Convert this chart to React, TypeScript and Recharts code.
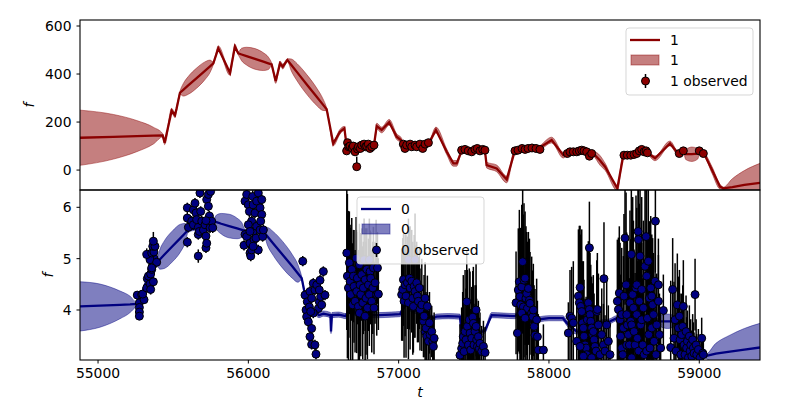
import { ComposedChart, XAxis, YAxis, Line, Area, Scatter, ErrorBar } from 'recharts';

const X_DOMAIN: [number, number] = [54880, 59404];
const X_TICKS = [55000, 56000, 57000, 58000, 59000];
const TOP_DOMAIN: [number, number] = [-83, 625];
const TOP_TICKS = [0, 200, 400, 600];
const BOTTOM_DOMAIN: [number, number] = [3.026, 6.337];
const BOTTOM_TICKS = [4, 5, 6];

const RED = '#8b0000';
const NAVY = '#000080';
const FONT = 'DejaVu Sans, sans-serif';

// series "1" (top panel): prediction mean and half-width of the band
const topT = [
  54880, 55102, 55257, 55368, 55430, 55443, 55490, 55512, 55523,
  55545, 55567, 55600, 55656, 55711, 55745, 55767, 55800, 55878, 55911,
  55933, 55955, 55988, 56044, 56100, 56133, 56155, 56182, 56211, 56229,
  56260, 56286, 56325, 56390, 56456, 56495, 56521, 56565, 56610, 56639,
  56654, 56700, 56750, 56800, 56836, 56854, 56887, 56937, 56987, 57020,
  57031, 57100, 57197, 57248, 57320, 57364, 57386, 57420, 57500, 57574,
  57585, 57652, 57719, 57774, 57874, 57929, 58018, 58095, 58129, 58200,
  58280, 58295, 58340, 58373, 58455, 58495, 58560, 58617, 58655, 58706,
  58805, 58860, 58894, 58910, 58950, 58990, 59005, 59031, 59085, 59138,
  59160, 59220, 59300, 59404,
];
const topMean = [
  134.6, 138.6, 141.4, 143.4, 144.6, 114, 247, 229, 257,
  322, 334, 352.5, 383, 413.5, 432, 444, 507, 405, 514,
  486, 481.4, 474.5, 463, 451.5, 444.6, 440, 371, 444, 431,
  458, 437.5, 406.8, 355.5, 304.3, 273.5, 253, 111, 160, 174,
  100, 95, 98, 100, 104, 183, 167, 199, 139, 122,
  100, 100, 108, 167, 76, 28, 28, 80, 82, 80,
  21, 7, -39, 83, 86, 90, 125, 62, 72, 78,
  72, 69, 40, 14, -76, 62, 64, 86, 72, 49,
  111, 69, 80, 66, 66, 68, 79, 69, 0, -69,
  -76, -71, -62, -53,
];
const topSpread = [
  115, 93, 65, 35, 7, 8, 10, 10, 10,
  6, 26, 37, 42, 37, 26, 6, 10, 10, 10,
  6, 26, 37, 43, 37, 26, 6, 10, 10, 10,
  6, 25, 36, 41, 36, 25, 6, 10, 10, 8,
  6, 6, 6, 6, 6, 12, 12, 12, 12, 10,
  6, 6, 6, 12, 12, 12, 12, 6, 6, 6,
  12, 14, 14, 6, 6, 8, 12, 12, 6, 6,
  8, 10, 20, 15, 10, 10, 6, 6, 6, 10,
  10, 8, 6, 22, 30, 22, 6, 6, 14, 10,
  5, 35, 60, 81,
];

// series "0" (bottom panel)
const botT = [
  54880, 55013, 55146, 55213, 55257, 55279, 55312, 55390,
  55411, 55442, 55495, 55548, 55579, 55600, 55640, 55700, 55723, 55767,
  55788, 55820, 55872, 55925, 55957, 55978, 56040, 56100,
  56126, 56164, 56228, 56292, 56330, 56355, 56370, 56390, 56440, 56470,
  56500, 56546, 56550, 56556, 56600, 56650, 56676, 56720, 56800, 56870,
  56950, 57009, 57053, 57076, 57150, 57231, 57250, 57330, 57408, 57420,
  57500, 57574, 57619, 57700, 57774, 57800, 57841, 57874, 57940, 58000,
  58093, 58118, 58184, 58250, 58317, 58340, 58406, 58451, 58473, 58600,
  58717, 58740, 58790, 58835, 58850, 58872, 58950, 59039, 59110, 59204,
  59300, 59404,
];
const botMean = [
  4.07, 4.085, 4.1, 4.11, 4.12, 4.23, 4.49, 4.92,
  4.984, 5.08, 5.24, 5.4, 5.496, 5.56, 5.59, 5.63, 5.73, 5.73,
  5.711, 5.68, 5.635, 5.588, 5.559, 5.54, 5.5, 5.53,
  5.437, 5.3, 5.075, 4.85, 4.71, 4.62, 4.4, 4.15, 3.97, 3.9,
  3.93, 3.9, 3.58, 3.9, 3.91, 3.88, 4.1, 3.92, 3.9, 3.9,
  3.91, 3.92, 4.14, 4.03, 3.95, 3.84, 3.87, 3.88, 3.87, 3.48,
  3.52, 3.6, 3.9, 3.89, 3.88, 3.94, 3.99, 3.77, 3.82, 3.84,
  3.84, 3.75, 3.58, 3.6, 3.65, 3.75, 3.78, 3.84, 3.78, 3.76,
  3.78, 3.78, 3.78, 3.78, 3.78, 3.58, 3.35, 3.1, 3.15, 3.19,
  3.23, 3.27,
];
const botSpread = [
  0.48, 0.42, 0.27, 0.16, 0.03, 0.04, 0.04, 0.04,
  0.19, 0.27, 0.3, 0.27, 0.19, 0.04, 0.04, 0.04, 0.04, 0.03,
  0.14, 0.2, 0.23, 0.2, 0.14, 0.03, 0.04, 0.03,
  0.17, 0.23, 0.26, 0.23, 0.17, 0.03, 0.04, 0.04, 0.05, 0.05,
  0.05, 0.05, 0.04, 0.05, 0.05, 0.05, 0.05, 0.05, 0.05, 0.05,
  0.05, 0.05, 0.05, 0.05, 0.05, 0.05, 0.05, 0.05, 0.05, 0.05,
  0.05, 0.05, 0.05, 0.05, 0.05, 0.05, 0.05, 0.05, 0.05, 0.05,
  0.05, 0.05, 0.05, 0.05, 0.05, 0.05, 0.05, 0.05, 0.05, 0.05,
  0.04, 0.1, 0.14, 0.1, 0.04, 0.05, 0.05, 0.03, 0.2, 0.32,
  0.41, 0.47,
];

// observed points: [t, f, error]
const topObs: [number, number, number | [number, number]][] = [
  [56654, 80, 3], [56660, 114, 3], [56668, 97, 3], [56676, 100, 3], [56690, 92, 3], [56698, 100, 3],
  [56710, 76, 3], [56721, 14, [3, 42]], [56726, 88, 3], [56732, 97, 3], [56745, 90, 3], [56754, 104, 3],
  [56770, 108, 3], [56780, 97, 3], [56787, 100, 3], [56798, 108, 3], [56809, 90, 3], [56821, 97, 3],
  [56836, 104, 3],
  [57031, 108, 3], [57042, 90, 3], [57053, 104, 3], [57076, 108, 3], [57087, 97, 3], [57109, 104, 3],
  [57120, 97, 3], [57142, 108, 3], [57160, 90, 3], [57176, 108, 3], [57198, 114, 3],
  [57419, 83, 3], [57441, 86, 3], [57463, 80, 3], [57486, 76, 3], [57508, 86, 3], [57523, 90, 3],
  [57541, 80, 3], [57559, 86, 3], [57574, 83, 3],
  [57774, 80, 3], [57794, 83, 3], [57821, 90, 3], [57841, 86, 3], [57861, 90, 3], [57887, 92, 3],
  [57914, 90, 3], [57940, 86, 3],
  [58122, 69, 3], [58140, 76, 3], [58162, 76, 3], [58185, 76, 3], [58202, 80, 3], [58218, 83, 3],
  [58233, 80, 3], [58251, 76, 3], [58269, 58, 3], [58284, 69, 3],
  [58499, 62, 3], [58521, 62, 3], [58544, 62, 3], [58566, 65, 3], [58584, 69, 3], [58601, 80, 3],
  [58617, 86, 3], [58633, 76, 3], [58646, 80, 3], [58655, 72, 3],
  [58867, 69, 3], [58894, 80, 3], [59000, 80, 3], [59027, 69, 3],
];

const botObs: [number, number, number][] = [
  [55261, 4.29, 0.08], [55275, 4.14, 0.07], [55275, 4.05, 0.07], [55275, 3.96, 0.07], [55275, 3.88, 0.07],
  [55290, 4.3, 0.08], [55306, 4.2, 0.08], [55297, 4.31, 0.08], [55324, 4.43, 0.09], [55328, 4.61, 0.1],
  [55346, 4.51, 0.1], [55335, 4.66, 0.1], [55350, 4.7, 0.1], [55357, 4.79, 0.1], [55364, 4.88, 0.1],
  [55372, 5.01, 0.1], [55346, 4.98, 0.1], [55324, 5.08, 0.12], [55357, 5.11, 0.12], [55372, 5.13, 0.12],
  [55364, 5.24, 0.15], [55379, 5.24, 0.15], [55368, 5.34, 0.18], [55390, 4.93, 0.1], [55357, 4.82, 0.1],
  [55350, 4.4, 0.1], [55368, 4.55, 0.1],
  [55594, 5.99, 0.1], [55594, 5.79, 0.1], [55601, 5.61, 0.1], [55594, 5.32, 0.1], [55623, 5.73, 0.1],
  [55634, 5.95, 0.1], [55634, 5.66, 0.1], [55645, 6.08, 0.1], [55652, 5.89, 0.1], [55656, 5.76, 0.1],
  [55667, 5.61, 0.1], [55667, 5.47, 0.1], [55667, 5.05, 0.13], [55674, 5.53, 0.1], [55678, 6.28, 0.1],
  [55683, 5.92, 0.1], [55690, 5.73, 0.1], [55701, 5.56, 0.1], [55712, 5.66, 0.1], [55718, 5.44, 0.1],
  [55718, 5.21, 0.1], [55723, 5.3, 0.1], [55723, 6.15, 0.1], [55734, 6.25, 0.1], [55734, 6.02, 0.1],
  [55741, 5.83, 0.1], [55745, 5.6, 0.1], [55749, 6.31, 0.1], [55756, 5.73, 0.1], [55763, 5.6, 0.1],
  [55718, 5.74, 0.1],
  [55978, 6.12, 0.12], [55989, 6.25, 0.12], [55978, 5.47, 0.1], [55971, 5.26, 0.1], [55989, 5.43, 0.1],
  [56000, 6.05, 0.12], [56007, 5.92, 0.12], [56011, 5.3, 0.1], [56011, 5.11, 0.1], [56016, 5.05, 0.1],
  [56022, 5.17, 0.1], [56022, 5.73, 0.1], [56029, 6.21, 0.12], [56033, 6.05, 0.12], [56033, 5.53, 0.1],
  [56038, 5.37, 0.1], [56044, 5.89, 0.1], [56051, 5.4, 0.1], [56055, 6.12, 0.12], [56055, 5.63, 0.1],
  [56066, 5.17, 0.1], [56066, 6.28, 0.12], [56078, 5.99, 0.1], [56078, 5.56, 0.1], [56089, 5.86, 0.1],
  [56089, 6.15, 0.1], [56095, 5.43, 0.1], [56100, 5.56, 0.1], [56082, 5.73, 0.1], [56000, 5.66, 0.1],
  [56011, 5.53, 0.1], [56033, 5.24, 0.1],
  [56362, 4.95, 0.1],
  [56377, 4.29, 0.1], [56384, 4.0, 0.1], [56388, 3.87, 0.1], [56399, 3.77, 0.1], [56392, 4.16, 0.1],
  [56410, 4.36, 0.1], [56421, 4.23, 0.1], [56432, 4.52, 0.1], [56443, 4.39, 0.1], [56455, 4.49, 0.1],
  [56466, 4.03, 0.1], [56472, 4.16, 0.1], [56481, 4.26, 0.1], [56488, 4.1, 0.1], [56499, 4.75, 0.1],
  [56510, 4.29, 0.1], [56432, 3.94, 0.1], [56421, 3.64, 0.1], [56410, 3.48, 0.1], [56421, 3.33, 0.1],
  [56443, 3.32, 0.1], [56450, 3.14, 0.1], [56477, 4.58, 0.1], [56472, 4.39, 0.1], [56406, 4.06, 0.1],
  [56415, 3.97, 0.1],
  [56655, 5.11, 1.5], [56659, 4.66, 1.6], [56666, 4.43, 1.5], [56672, 4.92, 1.0], [56677, 4.56, 1.1],
  [56681, 4.3, 1.3], [56688, 4.79, 1.0], [56694, 4.1, 1.2], [56699, 4.66, 0.9], [56703, 4.46, 1.1],
  [56710, 4.17, 1.0], [56717, 5.01, 0.8], [56721, 4.36, 1.2], [56725, 4.62, 0.9], [56732, 4.07, 1.1],
  [56739, 4.88, 0.8], [56743, 4.49, 1.0], [56748, 4.3, 1.2], [56754, 4.69, 0.9], [56761, 4.14, 1.1],
  [56765, 4.43, 0.9], [56770, 4.98, 0.8], [56777, 4.59, 1.0], [56783, 4.23, 1.1], [56788, 4.79, 0.8],
  [56792, 4.04, 1.0], [56799, 4.49, 0.9], [56805, 4.3, 1.0], [56810, 4.75, 0.8], [56814, 4.62, 0.9],
  [56821, 4.17, 1.0], [56828, 4.43, 0.9], [56832, 4.82, 0.8], [56836, 4.04, 0.9], [56843, 4.53, 0.8],
  [56850, 5.16, 0.6], [56854, 4.3, 0.8], [56859, 4.82, 0.7], [56865, 4.31, 0.7], [56805, 4.98, 0.8],
  [56739, 3.94, 1.0], [56777, 3.88, 0.9],
  [57020, 4.3, 0.9], [57027, 4.4, 1.0], [57032, 4.59, 0.9], [57036, 4.17, 1.1], [57043, 4.49, 1.0],
  [57049, 4.27, 1.2], [57058, 4.53, 0.9], [57065, 4.14, 1.1], [57065, 4.98, 0.8], [57072, 4.62, 1.0],
  [57076, 4.43, 1.2], [57087, 4.56, 1.0], [57094, 4.23, 1.1], [57098, 4.07, 0.9], [57103, 4.46, 1.0],
  [57109, 4.36, 0.9], [57109, 4.98, 0.9], [57120, 4.53, 0.8], [57125, 4.27, 0.9], [57131, 4.17, 0.8],
  [57138, 4.43, 0.8], [57142, 4.01, 0.8], [57154, 4.1, 0.9], [57165, 3.78, 0.7], [57169, 3.88, 0.8],
  [57176, 3.58, 0.6], [57176, 4.23, 0.7], [57182, 3.65, 0.7], [57187, 3.49, 0.6], [57191, 4.07, 0.6],
  [57198, 3.39, 0.6], [57205, 3.75, 0.6], [57209, 3.52, 0.5], [57220, 3.58, 0.5], [57227, 3.39, 0.5],
  [57231, 3.29, 0.5], [57236, 3.45, 0.5],
  [57408, 3.12, 0.6], [57419, 3.25, 0.8], [57426, 3.35, 1.0], [57430, 3.48, 1.2], [57435, 3.19, 0.9],
  [57442, 3.58, 1.2], [57448, 3.42, 1.0], [57453, 4.16, 1.0], [57457, 3.68, 1.1], [57464, 3.32, 0.9],
  [57470, 3.81, 1.0], [57475, 3.55, 1.2], [57479, 3.22, 0.8], [57486, 3.45, 1.0], [57493, 3.86, 0.9],
  [57497, 3.74, 1.1], [57501, 3.32, 0.8], [57508, 3.58, 0.9], [57515, 3.68, 0.8], [57515, 4.0, 0.9],
  [57519, 3.42, 0.8], [57524, 3.29, 0.7], [57530, 3.48, 0.7], [57537, 3.25, 0.6], [57541, 3.35, 0.6],
  [57552, 3.19, 0.5], [57564, 3.29, 0.5], [57575, 3.17, 0.5],
  [57781, 4.14, 1.0], [57790, 3.55, 0.9], [57796, 4.39, 1.2], [57803, 4.55, 1.4], [57807, 4.26, 1.3],
  [57812, 4.1, 1.5], [57819, 4.45, 1.6], [57825, 4.94, 1.4], [57830, 4.06, 1.8], [57834, 4.58, 1.5],
  [57841, 4.62, 1.3], [57847, 4.23, 1.4], [57852, 4.32, 1.2], [57856, 4.03, 1.3], [57863, 4.42, 1.1],
  [57870, 4.19, 1.2], [57874, 4.13, 1.0], [57885, 3.94, 1.1], [57892, 3.87, 0.9], [57896, 4.0, 0.9],
  [57901, 3.68, 0.8], [57907, 3.51, 0.9], [57918, 3.81, 0.8], [57923, 3.48, 0.7], [57929, 3.22, 0.7],
  [57963, 3.22, 0.5], [57819, 3.94, 1.2], [57841, 3.84, 1.1],
  [58129, 3.55, 0.6], [58140, 3.88, 0.9], [58151, 3.84, 1.0], [58162, 3.75, 1.2], [58185, 3.39, 0.8],
  [58196, 4.27, 1.3], [58202, 4.14, 1.5], [58207, 4.44, 1.2], [58211, 4.07, 1.4], [58218, 3.97, 1.6],
  [58224, 3.75, 1.2], [58229, 3.65, 1.3], [58233, 3.49, 1.1], [58240, 3.32, 0.9], [58247, 3.26, 1.0],
  [58251, 3.13, 0.8], [58255, 3.81, 1.4], [58262, 4.14, 1.2], [58269, 5.21, 0.9], [58269, 4.01, 1.3],
  [58273, 3.91, 1.2], [58278, 3.78, 1.1], [58284, 3.65, 1.0], [58291, 3.52, 1.0], [58295, 3.58, 1.1],
  [58300, 3.42, 0.9], [58306, 3.29, 0.8], [58313, 3.2, 0.8], [58318, 3.97, 1.0], [58322, 4.01, 1.1],
  [58329, 3.71, 1.0], [58340, 3.13, 0.8], [58351, 3.52, 0.9], [58362, 3.32, 0.8], [58366, 4.61, 1.1],
  [58373, 3.2, 0.7], [58384, 3.71, 0.9], [58395, 3.39, 0.7], [58406, 3.13, 0.6], [58284, 3.07, 0.9],
  [58229, 3.1, 1.0], [58207, 3.29, 1.1],
  [58455, 4.17, 1.2], [58462, 4.01, 1.4], [58468, 4.33, 1.3], [58473, 3.81, 1.5], [58477, 3.49, 1.2],
  [58484, 3.26, 1.0], [58484, 3.91, 1.3], [58491, 3.13, 0.9], [58495, 3.65, 1.4], [58499, 4.27, 1.6],
  [58506, 5.4, 1.3], [58513, 4.49, 1.8], [58517, 3.91, 1.6], [58517, 3.32, 1.2], [58522, 3.71, 1.7],
  [58528, 3.52, 1.5], [58535, 3.32, 1.3], [58539, 4.14, 1.8], [58544, 3.78, 1.6], [58548, 5.08, 1.4],
  [58550, 3.07, 1.0], [58550, 3.71, 1.5], [58557, 4.3, 1.9], [58562, 4.04, 1.7], [58566, 3.58, 1.6],
  [58573, 3.32, 1.4], [58579, 4.43, 1.8], [58584, 3.91, 1.7], [58584, 4.49, 1.5], [58588, 3.45, 1.5],
  [58593, 5.53, 1.3], [58595, 5.37, 1.4], [58597, 3.2, 1.1], [58601, 4.17, 1.9], [58606, 5.05, 1.5],
  [58610, 3.71, 1.6], [58617, 4.4, 1.8], [58617, 3.81, 1.5], [58624, 3.32, 1.3], [58628, 4.04, 1.7],
  [58633, 3.13, 1.0], [58639, 4.85, 1.6], [58646, 5.43, 1.4], [58650, 4.66, 1.7], [58650, 3.2, 1.1],
  [58655, 3.84, 1.6], [58661, 4.95, 1.4], [58664, 3.52, 1.4], [58668, 4.23, 1.5], [58672, 3.26, 1.2],
  [58677, 4.43, 1.4], [58684, 3.65, 1.3], [58684, 4.27, 1.2], [58690, 4.1, 1.3], [58695, 3.91, 1.2],
  [58699, 3.39, 1.0], [58706, 4.56, 1.1], [58708, 5.73, 1.0], [58712, 3.13, 0.9], [58717, 3.71, 1.0],
  [58728, 4.49, 0.9], [58728, 4.17, 0.9], [58735, 3.52, 0.8], [58743, 3.26, 0.7], [58761, 3.99, 0.7],
  [58810, 3.27, 1.3], [58823, 4.4, 1.0], [58832, 3.45, 1.1], [58839, 3.81, 1.1], [58845, 3.2, 0.9],
  [58854, 4.1, 1.0], [58861, 3.65, 1.0], [58868, 3.88, 0.9], [58872, 3.42, 0.9], [58877, 3.13, 0.8],
  [58883, 3.52, 0.8], [58890, 3.68, 0.8], [58894, 4.07, 0.9], [58899, 3.32, 0.7], [58905, 3.13, 0.6],
  [58912, 3.58, 0.7], [58916, 3.26, 0.6], [58921, 3.39, 0.6], [58928, 3.07, 0.5], [58934, 3.49, 0.6],
  [58939, 3.2, 0.5], [58943, 3.32, 0.5], [58950, 3.1, 0.5], [58956, 3.42, 0.5], [58961, 3.26, 0.5],
  [58965, 3.16, 0.4], [58972, 4.3, 0.7], [58979, 3.32, 0.5], [58983, 3.13, 0.4], [58994, 3.23, 0.4],
  [59005, 3.07, 0.4], [59016, 3.45, 0.4], [59023, 3.16, 0.3], [59027, 3.13, 0.3],
];

const makeLine = (ts: number[], mean: number[], spread: number[]) =>
  ts.map((t, i) => ({ t, mean: mean[i], band: [mean[i] - spread[i], mean[i] + spread[i]] }));

const makeObs = (rows: [number, number, number | [number, number]][]) =>
  rows.map(([t, f, err]) => ({ t, f, err }));

const topLine = makeLine(topT, topMean, topSpread);
const botLine = makeLine(botT, botMean, botSpread);
const topPoints = makeObs(topObs);
const botPoints = makeObs(botObs);

const tickStyle = { fontSize: 13.9, fill: '#000', fontFamily: FONT };

const marker = (fill: string) => (p: any) =>
  <circle cx={p.cx} cy={p.cy} r={4} fill={fill} stroke="#000" strokeWidth={1} />;

type PanelProps = {
  top: number;
  line: ReturnType<typeof makeLine>;
  points: ReturnType<typeof makeObs>;
  color: string;
  domain: [number, number];
  ticks: number[];
  bottomAxis: boolean;
};

function Panel({ top, line, points, color, domain, ticks, bottomAxis }: PanelProps) {
  const bottom = bottomAxis ? 40 : 210;
  return (
    <>
      {/* axes, band and mean line */}
      <div style={{ position: 'absolute', left: 0, top: 0 }}>
        <ComposedChart
          width={800}
          height={400}
          margin={{ top, right: 40, bottom: bottomAxis ? 0 : 210, left: 30 }}
        >
          <XAxis
            type="number"
            dataKey="t"
            domain={X_DOMAIN}
            allowDataOverflow
            ticks={X_TICKS}
            interval={0}
            height={bottomAxis ? 40 : 0}
            axisLine={false}
            tickSize={3.5}
            tickMargin={5}
            tickLine={{ stroke: '#000' }}
            tick={tickStyle}
            tickFormatter={bottomAxis ? (v: number) => String(v) : () => ''}
          />
          <YAxis
            type="number"
            domain={domain}
            allowDataOverflow
            ticks={ticks}
            interval={0}
            width={50}
            axisLine={false}
            tickSize={3.5}
            tickMargin={5}
            tickLine={{ stroke: '#000' }}
            tick={tickStyle}
          />
          <Area
            data={line}
            dataKey="band"
            type="monotoneX"
            fill={color}
            fillOpacity={0.5}
            stroke={color}
            strokeOpacity={0.45}
            strokeWidth={1}
            isAnimationActive={false}
          />
          <Line
            data={line}
            dataKey="mean"
            type="linear"
            stroke={color}
            strokeWidth={2.3}
            dot={false}
            isAnimationActive={false}
          />
        </ComposedChart>
      </div>
      {/* observed points, clipped to the plot area */}
      <div style={{ position: 'absolute', left: 0, top: 0, clipPath: `inset(${top}px 40px ${bottom}px 80px)` }}>
        <ComposedChart width={800} height={400} margin={{ top, right: 40, bottom, left: 80 }}>
          <XAxis type="number" dataKey="t" domain={X_DOMAIN} allowDataOverflow hide />
          <YAxis type="number" domain={domain} allowDataOverflow hide />
          <Scatter data={points} dataKey="f" shape={marker(color)} isAnimationActive={false}>
            <ErrorBar dataKey="err" direction="y" width={0} stroke="#000" strokeWidth={1.5} />
          </Scatter>
        </ComposedChart>
      </div>
    </>
  );
}

function LegendBox({ x, y, color, label }: { x: number; y: number; color: string; label: string }) {
  const text = { fontSize: 13.9, fontFamily: FONT, fill: '#000', dominantBaseline: 'central' as const };
  return (
    <g>
      <rect x={x} y={y} width={127} height={67} rx={3} fill="#fff" fillOpacity={0.8}
        stroke="#ccc" strokeOpacity={0.8} />
      <line x1={x + 4} x2={x + 34} y1={y + 12} y2={y + 12} stroke={color} strokeWidth={2.3} />
      <text x={x + 44} y={y + 12} {...text}>{label}</text>
      <rect x={x + 5} y={y + 27} width={28} height={10} fill={color} fillOpacity={0.5}
        stroke={color} strokeOpacity={0.45} />
      <text x={x + 44} y={y + 32} {...text}>{label}</text>
      <line x1={x + 19.5} x2={x + 19.5} y1={y + 46} y2={y + 60} stroke="#000" strokeWidth={1.5} />
      <circle cx={x + 19.5} cy={y + 53} r={4} fill={color} stroke="#000" />
      <text x={x + 44} y={y + 53} {...text}>{`${label} observed`}</text>
    </g>
  );
}

export default function App() {
  const label = { fontSize: 13.9, fontFamily: FONT, fontStyle: 'italic', fill: '#000' };
  return (
    <div style={{ position: 'absolute', left: 0, top: 0, width: 800, height: 400, background: '#fff' }}>
      <Panel top={20} line={topLine} points={topPoints} color={RED}
        domain={TOP_DOMAIN} ticks={TOP_TICKS} bottomAxis={false} />
      <Panel top={190} line={botLine} points={botPoints} color={NAVY}
        domain={BOTTOM_DOMAIN} ticks={BOTTOM_TICKS} bottomAxis />
      <svg width={800} height={400} style={{ position: 'absolute', left: 0, top: 0, pointerEvents: 'none' }}>
        <rect x={80} y={20} width={680} height={170} fill="none" stroke="#000" strokeWidth={1.1} />
        <rect x={80} y={190} width={680} height={170} fill="none" stroke="#000" strokeWidth={1.1} />
        <text x={0} y={0} transform="translate(34,105) rotate(-90)" textAnchor="middle" {...label}>f</text>
        <text x={0} y={0} transform="translate(53,275) rotate(-90)" textAnchor="middle" {...label}>f</text>
        <text x={420} y={397} textAnchor="middle" {...label}>t</text>
        <LegendBox x={626} y={28} color={RED} label="1" />
        <LegendBox x={357} y={197} color={NAVY} label="0" />
      </svg>
    </div>
  );
}
